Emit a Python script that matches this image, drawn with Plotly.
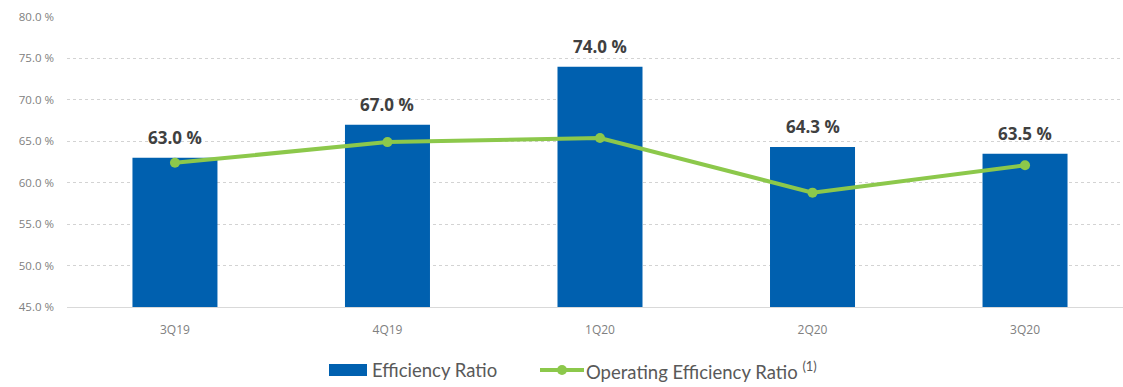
import plotly.graph_objects as go

# Quarterly efficiency figures
quarters = ["3Q19", "4Q19", "1Q20", "2Q20", "3Q20"]
efficiency_ratio = [63.0, 67.0, 74.0, 64.3, 63.5]
operating_efficiency_ratio = [62.4, 64.9, 65.4, 58.8, 62.1]

y_ticks = [45, 50, 55, 60, 65, 70, 75, 80]
y_tick_labels = ["45.0 %", "50.0 %", "55.0 %", "60.0 %", "65.0 %", "70.0 %", "75.0 %", "80.0 %"]

BLUE = "#0060AF"
GREEN = "#8CC84B"
GRID = "#d3d3d3"
TICK_GRAY = "#808080"
LABEL_DARK = "#404040"
LEGEND_GRAY = "#595959"

W, H = 1123, 387
ML, MR, MT, MB = 67, 0, 17, 80
PW, PH = W - ML - MR, H - MT - MB


def px_x(px):
    return (px - ML) / PW


def px_y(py):
    return (H - MB - py) / PH


fig = go.Figure()

fig.add_trace(go.Bar(
    x=quarters, y=efficiency_ratio,
    marker=dict(color=BLUE, line=dict(width=0)),
    width=0.4, showlegend=False, name="Efficiency Ratio",
))

fig.add_trace(go.Scatter(
    x=quarters, y=operating_efficiency_ratio,
    mode="lines+markers",
    line=dict(color=GREEN, width=4),
    marker=dict(color=GREEN, size=10),
    showlegend=False, name="Operating Efficiency Ratio",
))

# value labels above each bar
for q, v in zip(quarters, efficiency_ratio):
    fig.add_annotation(
        x=q, y=v, text=f"<b>{v:.1f} %</b>", showarrow=False,
        yanchor="bottom", yshift=7,
        font=dict(family="Open Sans", size=17, color=LABEL_DARK),
    )

# legend drawn below the axis
leg_y = px_y(370)
fig.add_shape(type="rect", xref="paper", yref="paper",
              x0=px_x(329), x1=px_x(367), y0=px_y(376), y1=px_y(364),
              fillcolor=BLUE, line=dict(width=0))
fig.add_annotation(xref="paper", yref="paper", x=px_x(370), y=leg_y,
                   xanchor="left", yanchor="middle", showarrow=False,
                   text="Efficiency Ratio",
                   font=dict(family="Lato", size=18.5, color=LEGEND_GRAY))
fig.add_shape(type="line", xref="paper", yref="paper",
              x0=px_x(540), x1=px_x(584), y0=leg_y, y1=leg_y,
              line=dict(color=GREEN, width=4))
fig.add_shape(type="circle", xref="paper", yref="paper",
              x0=px_x(557), x1=px_x(567), y0=px_y(375), y1=px_y(365),
              fillcolor=GREEN, line=dict(width=0))
fig.add_annotation(xref="paper", yref="paper", x=px_x(584), y=leg_y,
                   xanchor="left", yanchor="middle", showarrow=False,
                   text="Operating Efficiency Ratio <sup>(1)</sup>",
                   font=dict(family="Lato", size=18.5, color=LEGEND_GRAY))

fig.update_layout(
    width=W, height=H,
    margin=dict(l=ML, r=MR, t=MT, b=MB),
    paper_bgcolor="white", plot_bgcolor="white",
    font=dict(family="Open Sans"),
    xaxis=dict(
        range=[-0.508, 4.461],
        showgrid=False, showline=True, linecolor="#d9d9d9", linewidth=1,
        ticks="", ticklabelstandoff=12,
        tickfont=dict(family="Open Sans", size=12, color=TICK_GRAY),
    ),
    yaxis=dict(
        range=[45, 80],
        tickvals=y_ticks, ticktext=y_tick_labels,
        showgrid=True, gridcolor=GRID, griddash="dot", gridwidth=1,
        zeroline=False, showline=False, ticks="",
        ticklabelstandoff=12,
        tickfont=dict(family="Open Sans", size=11.5, color=TICK_GRAY),
    ),
    bargap=0.6,
)

fig.write_html("out.html")
